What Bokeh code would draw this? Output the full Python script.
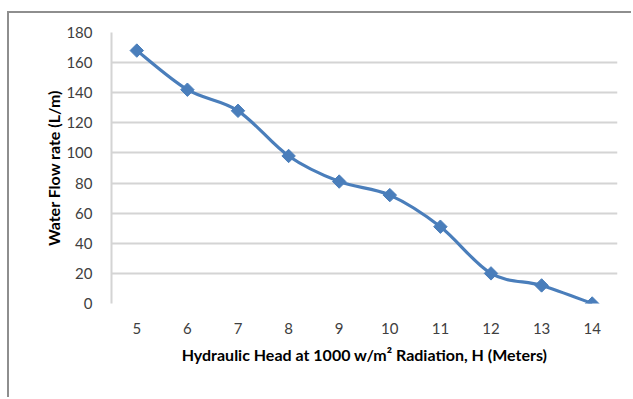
import math
from bokeh.plotting import figure
from bokeh.models import FixedTicker, Range1d
from bokeh.embed import file_html
from bokeh.resources import INLINE

# Hydraulic head (m) and measured water flow rate (L/min)
head_m = [5, 6, 7, 8, 9, 10, 11, 12, 13, 14]
flow_lpm = [168, 142, 128, 98, 81, 72, 51, 20, 12, 0]
y_ticks = [0, 20, 40, 60, 80, 100, 120, 140, 160, 180]

LINE = "#4A7EBB"
GRID = "#D4D4D4"
FONT = "Lato"

p = figure(width=624, height=386, output_backend="svg", toolbar_location=None,
           x_range=Range1d(4.5, 14.5), y_range=Range1d(0, 180),
           min_border_left=102, min_border_right=16,
           min_border_top=19, min_border_bottom=96)
p.margin = (11, 0, 0, 7)
p.styles = {"border-left": "2px solid #8E8E8E", "border-top": "2px solid #8E8E8E"}
p.outline_line_color = None
p.background_fill_color = "white"
p.border_fill_color = "white"

# smooth curve through the points (cardinal spline as cubic Bezier segments)
n = len(head_m)
x0, y0, x1, y1, cx0, cy0, cx1, cy1 = [], [], [], [], [], [], [], []
for i in range(n - 1):
    xm, ym = (head_m[i - 1], flow_lpm[i - 1]) if i > 0 else (head_m[i], flow_lpm[i])
    xp, yp = (head_m[i + 2], flow_lpm[i + 2]) if i + 2 < n else (head_m[i + 1], flow_lpm[i + 1])
    x0.append(head_m[i]); y0.append(flow_lpm[i])
    x1.append(head_m[i + 1]); y1.append(flow_lpm[i + 1])
    cx0.append(head_m[i] + (head_m[i + 1] - xm) / 6)
    cy0.append(flow_lpm[i] + (flow_lpm[i + 1] - ym) / 6)
    cx1.append(head_m[i + 1] - (xp - head_m[i]) / 6)
    cy1.append(flow_lpm[i + 1] - (yp - flow_lpm[i]) / 6)

p.bezier(x0=x0, y0=y0, x1=x1, y1=y1, cx0=cx0, cy0=cy0, cx1=cx1, cy1=cy1,
         line_color=LINE, line_width=3.2)
# diamond markers: squares turned by 45 degrees
p.scatter(head_m, flow_lpm, marker="square", size=9.5, angle=math.pi / 4,
          fill_color=LINE, line_color=LINE, line_width=1)

# axes
p.xaxis.ticker = FixedTicker(ticks=head_m)
p.yaxis.ticker = FixedTicker(ticks=y_ticks)
p.xaxis.axis_label = "Hydraulic Head at 1000 w/m\u00b2 Radiation, H (Meters)"
p.yaxis.axis_label = "Water Flow rate (L/m)"
for ax in (p.xaxis[0], p.yaxis[0]):
    ax.major_tick_line_color = None
    ax.minor_tick_line_color = None
    ax.major_label_text_font = FONT
    ax.major_label_text_font_size = "15px"
    ax.major_label_text_color = "#404040"
    ax.axis_label_text_font = FONT
    ax.axis_label_text_font_size = "16px"
    ax.axis_label_text_font_style = "bold"
    ax.axis_label_text_color = "#000000"
p.xaxis.axis_line_color = None
p.yaxis.axis_line_color = GRID
p.yaxis.axis_line_width = 2
p.yaxis.major_label_standoff = 13
p.yaxis.axis_label_standoff = 0
p.xaxis.major_label_standoff = 13
p.xaxis.axis_label_standoff = 8

p.xgrid.grid_line_color = None
p.ygrid.grid_line_color = GRID
p.ygrid.grid_line_width = 2

open("out.html", "w").write(file_html(p, INLINE))
